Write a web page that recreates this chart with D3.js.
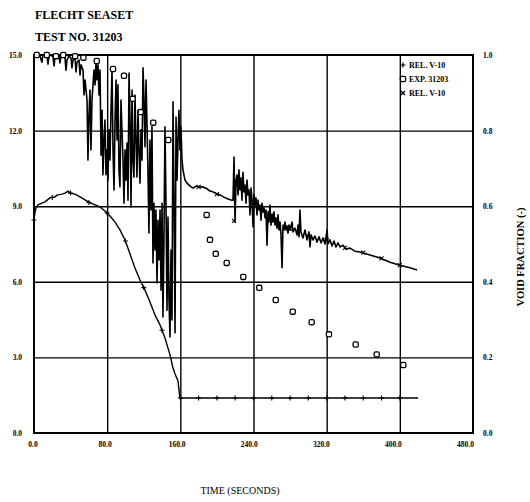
<!DOCTYPE html>
<html><head><meta charset="utf-8">
<script src="https://cdn.jsdelivr.net/npm/d3@7"></script>
<style>
body{margin:0;background:#fff;}
svg{display:block;}
text{font-family:"Liberation Serif","DejaVu Serif",serif;fill:#000;}
</style></head>
<body><svg id="chart" width="530" height="502"></svg>
<script>
// ---------- data ----------
const titleLines = ["FLECHT SEASET", "TEST NO. 31203"];
const xTicks = [0, 80, 160, 240, 320, 400, 480];
const yLeftTicks = [0, 3, 6, 9, 12, 15];
const yRightTicks = [0, 0.2, 0.4, 0.6, 0.8, 1.0];
const legendLabels = ["REL. V-10", "EXP. 31203", "REL. V-10"];

// upper curve: void fraction (right axis), [time s, void fraction]
const relVoid = [
[0,1.0],[2.2,1.0],[4.4,1.0],[6.6,0.997],[8.7,0.981],[9.8,1.0],[12.0,1.0],[14.2,1.0],[15.3,0.976],[16.4,0.997],
[18.6,1.0],[20.8,0.995],[21.9,0.971],[23.0,0.997],[25.1,1.0],[27.3,0.997],[28.4,0.979],[29.5,1.0],[31.7,1.0],[33.9,0.992],
[35.0,0.960],[36.1,0.987],[38.3,0.997],[40.5,0.992],[41.5,0.966],[42.6,0.987],[44.8,0.995],[45.9,0.955],[47.0,0.981],[49.2,0.987],
[50.3,0.947],[51.4,0.974],[53.6,0.960],[54.7,0.894],[55.8,0.934],[58.0,0.881],[59.0,0.722],[60.1,0.841],[61.2,0.907],[62.3,0.749],
[63.4,0.881],[65.6,0.960],[66.7,0.921],[67.8,0.981],[68.9,0.934],[70.0,0.974],[71.1,0.894],[72.2,0.960],[73.3,0.735],[74.4,0.854],
[75.4,0.683],[76.5,0.775],[77.6,0.828],[78.7,0.683],[79.8,0.749],[80.9,0.669],[82.0,0.802],[83.1,0.722],[84.2,0.854],[85.3,0.960],
[86.4,0.749],[87.5,0.643],[88.6,0.828],[89.7,0.934],[90.8,0.775],[91.8,0.921],[92.9,0.696],[94.0,0.651],[95.1,0.881],[96.2,0.802],
[97.3,0.722],[98.4,0.608],[99.5,0.749],[100.6,0.669],[101.7,0.767],[102.8,0.616],[103.9,0.952],[105.0,0.828],[106.1,0.598],[107.2,0.907],
[108.2,0.722],[109.3,0.677],[110.4,0.894],[111.5,0.775],[112.6,0.677],[113.7,0.854],[114.8,0.749],[115.9,0.661],[117.0,0.802],[118.1,0.722],
[119.2,0.966],[120.3,0.881],[121.4,0.757],[122.5,0.934],[123.6,0.810],[124.6,0.696],[125.7,0.529],[126.8,0.775],[127.9,0.590],[129.0,0.810],
[130.1,0.450],[131.2,0.608],[132.3,0.484],[133.4,0.590],[134.5,0.397],[135.6,0.563],[136.7,0.458],[137.8,0.590],[138.9,0.378],[140.0,0.608],
[141.0,0.307],[142.1,0.511],[143.2,0.810],[144.3,0.616],[145.4,0.325],[146.5,0.571],[147.6,0.352],[148.7,0.254],[149.8,0.484],[150.9,0.299],
[152.0,0.876],[153.1,0.616],[154.2,0.265],[155.3,0.836],[156.4,0.669],[157.5,0.775],[158.5,0.854],[159.6,0.749],[160.7,0.810],[161.8,0.722],
[162.9,0.696],[165.1,0.669],[167.3,0.661],[170.6,0.653],[173.9,0.648],[177.1,0.653],[181.5,0.651],[184.8,0.651],[189.2,0.646],[192.4,0.640],
[195.7,0.638],[200.1,0.632],[203.4,0.630],[207.7,0.624],[212.1,0.619],[216.5,0.616],[217.6,0.616],[218.7,0.730],[219.8,0.558],[220.9,0.669],
[222.0,0.683],[223.1,0.630],[224.1,0.696],[225.2,0.643],[226.3,0.675],[227.4,0.616],[228.5,0.690],[229.6,0.638],[230.7,0.656],[231.8,0.608],
[232.9,0.669],[234.0,0.630],[235.1,0.643],[236.2,0.577],[237.3,0.648],[238.4,0.616],[239.5,0.545],[240.5,0.630],[241.6,0.603],[242.7,0.622],
[243.8,0.577],[244.9,0.616],[246.0,0.590],[247.1,0.603],[248.2,0.563],[249.3,0.608],[250.4,0.585],[251.5,0.595],[252.6,0.569],[253.7,0.590],
[254.8,0.497],[255.9,0.585],[256.9,0.558],[258.0,0.603],[259.1,0.550],[260.2,0.577],[261.3,0.558],[262.4,0.585],[263.5,0.550],[264.6,0.569],
[265.7,0.542],[266.8,0.577],[267.9,0.537],[269.0,0.558],[270.1,0.524],[271.2,0.437],[272.3,0.550],[273.4,0.537],[274.4,0.558],[275.5,0.537],
[276.6,0.548],[277.7,0.529],[278.8,0.550],[279.9,0.537],[282.1,0.558],[283.2,0.532],[285.4,0.542],[287.6,0.524],[288.7,0.550],[289.8,0.519],
[290.8,0.590],[291.9,0.532],[294.1,0.516],[296.3,0.537],[298.5,0.511],[300.7,0.532],[301.8,0.492],[302.9,0.524],[305.1,0.511],[307.2,0.521],
[309.4,0.505],[311.6,0.519],[313.8,0.503],[316.0,0.516],[318.2,0.500],[320.4,0.537],[321.5,0.500],[323.6,0.511],[325.8,0.495],[328.0,0.508],
[330.2,0.492],[332.4,0.503],[334.6,0.492],[337.9,0.497],[341.1,0.487],[345.5,0.489],[350.9,0.481],[356.4,0.479],[367.4,0.471],[378.3,0.463],
[389.3,0.452],[400.2,0.444],[411.1,0.437],[418.8,0.431]
];
// x markers on the upper curve
const relVoidMarks = [[180,0.651],[200,0.632],[218.7,0.561],[240,0.600],[260,0.577],[280,0.540],[300,0.520],[320,0.510],[340,0.490],[360,0.477],[380,0.462],[400,0.444]];

// lower curve: left axis units, [time s, value]
const relLevel = [
[0,8.45],[1.1,8.77],[2.2,8.93],[4.4,9.05],[6.6,9.09],[12.0,9.17],[17.5,9.33],[23.0,9.37],[25.1,9.44],[30.6,9.48],
[33.9,9.52],[37.2,9.60],[39.4,9.52],[44.8,9.48],[50.3,9.37],[55.8,9.25],[61.2,9.13],[66.7,9.05],[72.2,8.97],[77.6,8.81],
[83.1,8.61],[88.6,8.37],[94.0,8.06],[99.5,7.66],[105.0,7.10],[110.4,6.55],[115.9,6.07],[121.4,5.67],[126.8,5.20],[132.3,4.68],
[137.8,4.29],[143.2,3.77],[148.7,3.10],[152.0,2.58],[154.2,2.34],[157.5,2.06],[158.5,1.71],[159.6,1.39],[420,1.39]
];
const relLevelMarks = [[0,8.45],[20,9.35],[40,9.52],[60,9.15],[80,8.73],[100,7.62],[120,5.77],[140,4.08],[160,1.39],[180,1.39],[200,1.39],
[220,1.39],[240,1.39],[260,1.39],[280,1.39],[300,1.39],[320,1.39],[340,1.39],[360,1.39],[380,1.39],[400,1.39]];

// experimental void fraction, [time s, void fraction]
const expVoid = [[3,1.0],[14,1.0],[24,0.997],[32,1.0],[45,0.997],[54,0.993],[68.6,0.984],[86.4,0.963],[98.4,0.945],[107.9,0.884],
[116.7,0.849],[130.4,0.821],[146.8,0.775],[188.8,0.577],[192.4,0.511],[198.7,0.474],[210.7,0.450],[228.8,0.413],[246.3,0.384],[264.3,0.352],
[282.9,0.321],[303.6,0.293],[322.5,0.261],[351.7,0.234],[374.7,0.208],[403.8,0.180]];

// ---------- drawing ----------
const svg = d3.select("#chart");
const L = 34, R = 473, T = 55, B = 433;
const x = d3.scaleLinear().domain([0, 480]).range([L, R]);
const xLab = d3.scaleLinear().domain([0, 480]).range([32.5, 465]); // printed labels sit slightly left of ticks
const yL = d3.scaleLinear().domain([0, 15]).range([B, T]);
const yR = d3.scaleLinear().domain([0, 1]).range([B, T]);

// titles
svg.selectAll("text.title").data(titleLines).join("text")
  .attr("class","title").attr("x", 35).attr("y", (d,i)=> 19 + i*22)
  .attr("font-size", 12).attr("font-weight","bold").text(d=>d);

// grid
const grid = svg.append("g");
grid.append("g").attr("transform",`translate(0,${B})`)
  .call(d3.axisBottom(x).tickValues(xTicks.slice(1,-1)).tickSize(-(B-T)).tickFormat(""))
  .call(g=>g.select(".domain").remove())
  .call(g=>g.selectAll("line").attr("stroke","#000").attr("stroke-width",1.4));
grid.append("g").attr("transform",`translate(${L},0)`)
  .call(d3.axisLeft(yL).tickValues(yLeftTicks.slice(1,-1)).tickSize(-(R-L)).tickFormat(""))
  .call(g=>g.select(".domain").remove())
  .call(g=>g.selectAll("line").attr("stroke","#000").attr("stroke-width",1.4));

// frame
svg.append("rect").attr("x",L).attr("y",T).attr("width",R-L).attr("height",B-T)
  .attr("fill","none").attr("stroke","#000").attr("stroke-width",2);

// tick labels
const lab = g=>g.call(g=>g.select(".domain").remove())
  .call(g=>g.selectAll("text").attr("font-size",7.5).attr("font-weight","bold")
     .attr("font-family","Liberation Serif, serif"));
svg.append("g").attr("transform",`translate(${L},0)`)
  .call(d3.axisLeft(yL).tickValues(yLeftTicks).tickSize(0).tickPadding(12).tickFormat(d3.format(".1f"))).call(lab);
svg.append("g").attr("transform",`translate(${R},0)`)
  .call(d3.axisRight(yR).tickValues(yRightTicks).tickSize(0).tickPadding(10).tickFormat(d3.format(".1f"))).call(lab);
svg.append("g").attr("transform",`translate(0,${B})`)
  .call(d3.axisBottom(xLab).tickValues(xTicks).tickSize(0).tickPadding(9).tickFormat(d3.format(".1f"))).call(lab);

// axis titles
svg.append("text").attr("x", 240).attr("y", 494).attr("text-anchor","middle")
  .attr("font-size", 10).text("TIME (SECONDS)");
svg.append("text").attr("transform","translate(524,257) rotate(-90)").attr("text-anchor","middle")
  .attr("font-size", 10.5).attr("font-weight","bold").text("VOID FRACTION (-)");

// lines
svg.append("path").datum(relLevel)
  .attr("d", d3.line().x(d=>x(d[0])).y(d=>yL(d[1])))
  .attr("fill","none").attr("stroke","#000").attr("stroke-width",1.4).attr("stroke-linejoin","round");
svg.append("path").datum(relVoid)
  .attr("d", d3.line().x(d=>x(d[0])).y(d=>yR(d[1])))
  .attr("fill","none").attr("stroke","#000").attr("stroke-width",1.6).attr("stroke-linejoin","round");

// markers
const plusPath = "M-2.5,0H2.5M0,-2.5V2.5", crossPath = "M-2,-2L2,2M-2,2L2,-2";
svg.append("g").selectAll("path").data(relLevelMarks).join("path")
  .attr("transform", d=>`translate(${x(d[0])},${yL(d[1])})`)
  .attr("d",plusPath).attr("stroke","#000").attr("stroke-width",1.1);
svg.append("g").selectAll("path").data(relVoidMarks).join("path")
  .attr("transform", d=>`translate(${x(d[0])},${yR(d[1])})`)
  .attr("d",crossPath).attr("stroke","#000").attr("stroke-width",1.1);
svg.append("g").selectAll("rect").data(expVoid).join("rect")
  .attr("x", d=>x(d[0])-2.6).attr("y", d=>yR(d[1])-2.6).attr("width",5.2).attr("height",5.2).attr("rx",1.6)
  .attr("fill","#fff").attr("stroke","#000").attr("stroke-width",1.3);

// legend
const lg = svg.append("g").attr("transform",`translate(403,65)`);
const sym = [plusPath, null, crossPath];
legendLabels.forEach((t,i)=>{
  const gy = i*14;
  if (i===1) lg.append("rect").attr("x",-2.6).attr("y",gy-2.6).attr("width",5.2).attr("height",5.2).attr("rx",1.4)
     .attr("fill","#fff").attr("stroke","#000").attr("stroke-width",1.3);
  else lg.append("path").attr("transform",`translate(0,${gy})`).attr("d",sym[i]).attr("stroke","#000").attr("stroke-width",1.2);
  lg.append("text").attr("x",6).attr("y",gy+3).attr("font-size",8).attr("font-weight","bold").text(t);
});
</script></body></html>
